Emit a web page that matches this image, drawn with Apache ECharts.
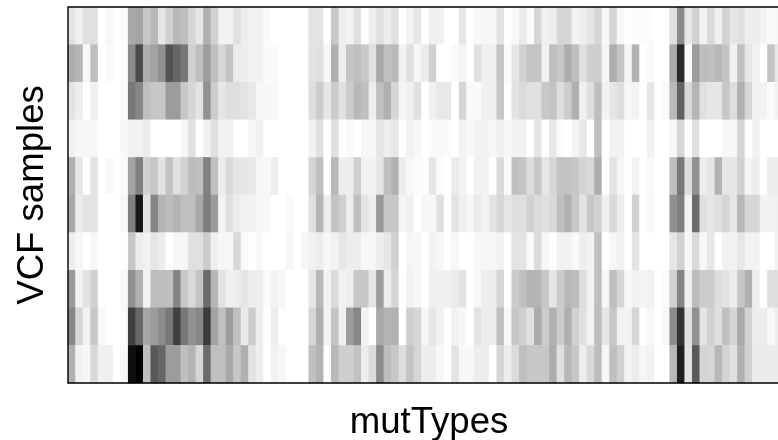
<!DOCTYPE html>
<html>
<head>
<meta charset="utf-8">
<style>
  html, body { margin: 0; padding: 0; background: #fff; }
  #chart { width: 778px; height: 440px; }
</style>
<script src="https://cdn.jsdelivr.net/npm/echarts@6/dist/echarts.min.js"></script>
</head>
<body>
<div id="chart"></div>
<script>
// darkness of each cell, 0 = white, 100 = black
// 96 mutation types per row, the last columns run past the right edge
var row1 = [11,6,12,12,0,3,0,2,34,36, 22,28,10,18,28,25,16,10,31,18, 5,5,12,7,5,5,2,0,0,0, 0,0,11,11,0,22,7,5,12,0, 7,12,7,12,0,5,10,0,6,6, 0,0,10,0,3,3,3,11,0,3, 8,2,16,6,7,16,16,5,7,10, 16,3,16,3,0,1,1,1,0,0, 12,46,10,18,5,15,6,18,10,12, 7,7,5,2,3,3];
var row2 = [32,29,3,25,0,2,0,1,45,71, 32,36,43,67,60,53,18,25,39,25, 16,24,8,7,5,5,2,2,0,0, 0,0,11,12,3,31,7,23,25,22, 12,34,25,27,5,12,3,8,18,0, 0,2,4,0,12,6,6,23,2,10, 18,23,23,5,25,22,32,25,12,19, 19,4,32,23,4,30,0,2,0,0, 33,84,2,39,26,25,28,23,5,25, 10,5,0,23,9,5];
var row3 = [11,7,0,6,0,0,0,2,53,47, 25,22,22,39,39,22,16,11,43,20, 10,13,13,11,9,3,3,3,0,0, 0,0,13,20,10,20,12,20,28,25, 7,25,31,16,4,6,12,0,6,9, 9,0,16,2,2,6,6,22,0,11, 14,12,12,22,23,13,20,31,6,13, 25,5,10,13,3,5,0,10,0,2, 28,62,15,29,12,10,10,22,13,31, 16,5,5,2,5,3];
var row4 = [5,3,3,3,0,0,0,3,5,5, 7,0,0,0,0,3,12,0,6,12, 5,5,0,0,3,6,0,0,0,0, 0,0,5,12,0,12,0,2,0,3, 3,10,7,10,0,5,3,0,2,2, 2,0,5,3,5,5,3,6,3,5, 5,0,10,0,10,2,0,4,9,0, 25,0,5,5,0,0,0,5,0,0, 3,16,0,12,0,0,0,3,3,16, 0,5,0,0,0,0];
var row5 = [31,10,0,11,0,3,0,2,36,50, 18,22,11,24,12,18,26,25,50,25, 7,15,10,10,9,3,3,7,0,0, 0,0,16,25,0,28,7,7,19,5, 5,10,25,31,7,3,2,1,10,2, 0,8,5,0,5,5,0,14,2,25, 23,13,22,10,16,24,24,22,17,15, 32,0,11,4,0,5,0,2,0,0, 25,53,13,43,7,10,30,10,10,18, 4,7,0,7,7,5];
var row6 = [34,7,11,11,0,0,0,3,50,91, 11,48,30,26,30,25,25,34,51,39, 5,12,7,5,5,3,3,0,0,2, 0,0,12,29,7,23,19,7,25,11, 7,40,22,22,4,6,0,3,3,12, 0,11,6,3,8,5,11,16,10,13, 13,18,14,12,15,25,31,22,11,22, 18,6,15,7,0,18,0,3,0,0, 43,50,5,58,12,10,12,16,10,28, 16,16,5,5,6,5];
var row7 = [7,3,0,3,0,0,0,0,22,7, 5,10,7,0,3,3,12,12,20,6, 3,3,15,2,0,3,0,0,0,3, 0,3,5,7,3,5,10,7,7,3, 3,7,10,18,0,4,3,0,5,3, 0,3,0,0,3,3,3,5,0,11, 11,2,14,3,0,5,5,2,7,5, 25,0,3,5,0,11,0,0,0,0, 10,18,3,15,3,10,0,5,5,10, 5,5,0,0,5,3];
var row8 = [40,5,11,18,0,0,0,3,43,31, 5,26,26,25,48,22,15,23,58,29, 11,6,7,10,7,7,2,5,3,0, 0,0,10,28,5,14,5,7,22,22, 10,39,7,16,0,5,3,0,6,6, 6,8,11,0,3,7,7,16,0,20, 25,29,29,22,10,20,28,26,13,5, 25,3,25,16,3,5,4,5,0,2, 18,48,6,26,20,20,13,11,7,22, 31,7,0,13,13,10];
var row9 = [47,16,5,22,3,0,0,2,75,60, 35,39,45,53,75,53,43,47,77,36, 25,39,25,8,20,7,0,7,0,0, 0,0,16,31,5,23,6,39,47,5, 0,34,30,31,0,19,16,3,10,6, 0,5,3,0,11,7,7,25,3,22, 19,12,33,20,31,20,31,18,12,5, 26,10,22,5,5,16,0,3,0,3, 45,80,12,43,11,18,13,25,17,34, 18,7,7,3,7,5];
var row10 = [31,5,3,15,6,6,0,3,94,100, 25,65,60,39,39,25,30,16,58,25, 25,34,22,31,11,7,0,5,3,0, 0,0,25,30,0,28,19,19,24,7, 14,45,26,22,13,23,16,7,7,3, 0,11,3,3,7,7,0,16,7,14, 25,22,22,22,32,12,28,22,7,15, 26,3,25,18,5,8,3,5,0,0, 28,88,11,65,17,16,28,17,12,31, 18,8,8,8,8,5];

var rows = [row1, row2, row3, row4, row5, row6, row7, row8, row9, row10];
var samples = ['1', '2', '3', '4', '5', '6', '7', '8', '9', '10'];
var mutTypes = row1.map(function (v, i) { return String(i + 1); });

var cells = [];
rows.forEach(function (row, y) {
  row.forEach(function (v, x) {
    cells.push([x, y, v]);
  });
});

var myChart = echarts.init(document.getElementById('chart'), null, { renderer: 'canvas' });
var labelFont = { fontFamily: 'Liberation Sans', fontSize: 36.6, color: '#000' };

myChart.setOption({
  animation: false,
  backgroundColor: '#fff',
  grid: {
    show: true,
    z: 5,
    left: 68,
    top: 7,
    width: 722,
    height: 376,
    outerBoundsMode: 'none',
    borderColor: '#000',
    borderWidth: 1.4,
    backgroundColor: 'transparent'
  },
  visualMap: {
    show: false,
    min: 0,
    max: 100,
    dimension: 2,
    inRange: { color: ['#ffffff', '#000000'] }
  },
  xAxis: {
    type: 'category',
    data: mutTypes,
    name: 'mutTypes',
    nameLocation: 'middle',
    nameGap: 21,
    nameTextStyle: labelFont,
    axisLine: { show: false },
    axisTick: { show: false },
    axisLabel: { show: false },
    splitLine: { show: false }
  },
  yAxis: {
    type: 'category',
    data: samples,
    inverse: true,
    name: 'VCF samples',
    nameLocation: 'middle',
    nameGap: 17,
    nameTextStyle: labelFont,
    axisLine: { show: false },
    axisTick: { show: false },
    axisLabel: { show: false },
    splitLine: { show: false }
  },
  series: [{
    type: 'heatmap',
    data: cells,
    progressive: 0,
    itemStyle: { borderWidth: 0 }
  }]
});
</script>
</body>
</html>
